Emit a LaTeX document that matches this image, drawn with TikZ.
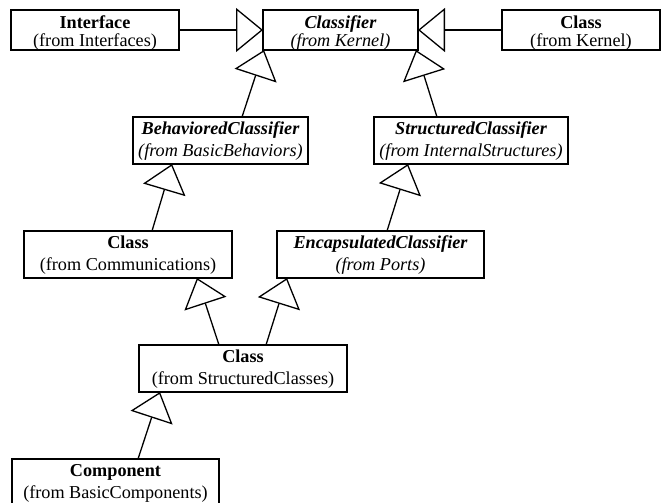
\documentclass[tikz,border=0pt]{standalone}
\usepackage{fontspec}
\setmainfont{Liberation Serif}
\usetikzlibrary{arrows.meta}

\tikzset{
  classbox/.style={draw, line width=1.3pt, rectangle, inner sep=0pt, outer sep=0pt, anchor=north},
  classtext/.style={anchor=base, inner sep=0pt, font=\fontsize{18.2}{22}\selectfont},
  inherits/.style={draw, line width=1.3pt, -{Triangle[open, length=27pt, width=44pt]}},
}

% #1 name, #2 centre x, #3 top y, #4 width, #5 height,
% #6 baseline of the name, #7 baseline of the package line, #8 name, #9 package
\newcommand{\umlclass}[9]{%
  \node[classbox, minimum width=#4pt, minimum height=#5pt] (#1) at (#2,#3) {};
  \node[classtext] (#1-name) at ([yshift=-#6pt]#1.north) {#8};
  \node[classtext] (#1-pkg) at ([yshift=-#7pt]#1.north) {#9};
}

\begin{document}
\begin{tikzpicture}[x=1pt, y=-1pt]
  \useasboundingbox (0,0) rectangle (661,503);

  % top row
  \umlclass{iface}{95}{10}{168}{40}{18.3}{36.8}{\bfseries Interface}{(from Interfaces)}
  \umlclass{cls}{340.5}{10}{155}{40}{18.3}{36.8}{\bfseries\itshape Classifier}{\itshape (from Kernel)}
  \umlclass{kcls}{581}{10}{158}{40}{18.3}{36.8}{\bfseries Class}{(from Kernel)}

  % second row
  \umlclass{bc}{220.5}{117}{175}{47}{17}{39}{\bfseries\itshape BehavioredClassifier}{\itshape (from BasicBehaviors)}
  \umlclass{sc}{471}{117}{194}{47}{17}{39}{\bfseries\itshape StructuredClassifier}{\itshape (from InternalStructures)}

  % third row
  \umlclass{comm}{128}{231}{208}{47}{17}{39}{\bfseries Class}{(from Communications)}
  \umlclass{enc}{380.5}{231}{207}{47}{17}{39}{\bfseries\itshape EncapsulatedClassifier}{\itshape (from Ports)}

  % fourth and fifth rows
  \umlclass{scls}{243}{345}{208}{47}{17}{39}{\bfseries Class}{(from StructuredClasses)}
  \umlclass{comp}{115.5}{459}{207}{47}{17}{39}{\bfseries Component}{(from BasicComponents)}

  % generalizations
  \draw[inherits] (iface.east) -- (cls.west);
  \draw[inherits] (kcls.west) -- (cls.east);
  \draw[inherits] ([xshift=21.5pt]bc.north) -- ([xshift=-76.5pt]cls.south);
  \draw[inherits] ([xshift=-34pt]sc.north) -- ([xshift=75.5pt]cls.south);
  \draw[inherits] ([xshift=24pt]comm.north) -- ([xshift=-48.5pt]bc.south);
  \draw[inherits] ([xshift=6.5pt]enc.north) -- ([xshift=-63pt]sc.south);
  \draw[inherits] ([xshift=-24pt]scls.north) -- ([xshift=69pt]comm.south);
  \draw[inherits] ([xshift=23pt]scls.north) -- ([xshift=-93.5pt]enc.south);
  \draw[inherits] ([xshift=22.5pt]comp.north) -- ([xshift=-83pt]scls.south);
\end{tikzpicture}
\end{document}
